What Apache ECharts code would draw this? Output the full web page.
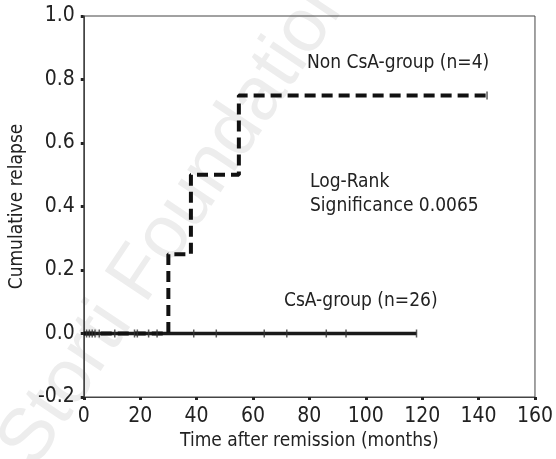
<!DOCTYPE html>
<html>
<head>
<meta charset="utf-8">
<script src="https://cdn.jsdelivr.net/npm/echarts@6/dist/echarts.min.js"></script>
<style>
  html, body { margin: 0; padding: 0; background: #fff; }
  #chart { width: 556px; height: 459px; }
</style>
</head>
<body>
<div id="chart"></div>
<script>
// Non CsA-group (n=4): step points (time, cumulative relapse)
var nonCsaTimes = [0, 30, 38, 55, 143];
var nonCsaRelapse = [0, 0.25, 0.5, 0.75, 0.75];
var nonCsaCensored = [143];

// CsA-group (n=26): no relapses
var csaTimes = [0, 118];
var csaRelapse = [0, 0];
var csaCensored = [1, 2, 3, 4, 5.5, 11, 18, 19, 23, 26, 39, 47, 64, 72, 86, 93, 118];

var xTicks = [0, 20, 40, 60, 80, 100, 120, 140, 160];
var yTicks = [-0.2, 0, 0.2, 0.4, 0.6, 0.8, 1.0];

var FONT = "'Liberation Sans Narrow', 'DejaVu Sans Condensed', 'Roboto', sans-serif";

window.onload = function () {
    var chart = echarts.init(document.getElementById('chart'));

    var nonCsaLine = [];
    for (var i = 0; i < nonCsaTimes.length; i++) {
        nonCsaLine.push([nonCsaTimes[i], nonCsaRelapse[i]]);
    }
    var csaLine = [];
    for (var j = 0; j < csaTimes.length; j++) {
        csaLine.push([csaTimes[j], csaRelapse[j]]);
    }
    // censor marks sit on the curve value at that time
    function curveAt(times, vals, t) {
        var v = vals[0];
        for (var k = 0; k < times.length; k++) {
            if (times[k] <= t) v = vals[k];
        }
        return v;
    }
    var csaMarks = csaCensored.map(function (t) { return [t, curveAt(csaTimes, csaRelapse, t)]; });
    var nonCsaMarks = nonCsaCensored.map(function (t) { return [t, curveAt(nonCsaTimes, nonCsaRelapse, t)]; });

    var option = {
        backgroundColor: '#fff',
        animation: false,
        textStyle: { fontFamily: FONT },
        grid: {
            left: 82,
            right: 19,
            top: 16,
            bottom: 62,
            show: true,
            borderColor: '#444',
            borderWidth: 1
        },
        xAxis: {
            type: 'value',
            min: xTicks[0],
            max: xTicks[xTicks.length - 1],
            interval: 20,
            name: 'Time after remission (months)',
            nameLocation: 'middle',
            nameGap: 35,
            nameTextStyle: { fontSize: 19, color: '#222', fontFamily: FONT },
            axisLine: { onZero: false, lineStyle: { color: '#444', width: 1 } },
            axisTick: { inside: false, length: 3, lineStyle: { color: '#222', width: 3 } },
            axisLabel: { fontSize: 21, color: '#222', margin: 9, fontFamily: FONT },
            splitLine: { show: false }
        },
        yAxis: {
            type: 'value',
            min: yTicks[0],
            max: yTicks[yTicks.length - 1],
            interval: 0.2,
            name: 'Cumulative relapse',
            nameLocation: 'middle',
            nameGap: 54,
            nameTextStyle: { fontSize: 19, color: '#222', fontFamily: FONT },
            axisLine: { show: true, onZero: false, lineStyle: { color: '#444', width: 1 } },
            axisTick: { show: true, inside: false, length: 3, lineStyle: { color: '#222', width: 3 } },
            axisLabel: {
                fontSize: 21, color: '#222', margin: 9, fontFamily: FONT,
                formatter: function (v) { return v.toFixed(1); }
            },
            splitLine: { show: false }
        },
        graphic: [
            {
                type: 'text',
                z: -10,
                x: 178,
                y: 218,
                rotation: 0.98,
                origin: [0, 0],
                style: {
                    text: 'Storti Foundation',
                    fontSize: 76,
                    fontFamily: "'Liberation Sans', sans-serif",
                    fill: '#ededed',
                    align: 'center',
                    verticalAlign: 'middle'
                },
                silent: true
            },
            {
                type: 'text', x: 307, y: 63, z: 10,
                style: { text: 'Non CsA-group (n=4)', fontSize: 19, fontFamily: FONT, fill: '#222', verticalAlign: 'middle' }
            },
            {
                type: 'text', x: 310, y: 182, z: 10,
                style: { text: 'Log-Rank', fontSize: 19, fontFamily: FONT, fill: '#222', verticalAlign: 'middle' }
            },
            {
                type: 'text', x: 310, y: 206, z: 10,
                style: { text: 'Significance 0.0065', fontSize: 19, fontFamily: FONT, fill: '#222', verticalAlign: 'middle' }
            },
            {
                type: 'text', x: 284, y: 301, z: 10,
                style: { text: 'CsA-group (n=26)', fontSize: 19, fontFamily: FONT, fill: '#222', verticalAlign: 'middle' }
            }
        ],
        series: [
            {
                name: 'CsA-group (n=26)',
                type: 'line',
                step: 'end',
                data: csaLine,
                symbol: 'none',
                lineStyle: { color: '#1a1a1a', width: 3.5 },
                z: 3
            },
            {
                name: 'Non CsA-group (n=4)',
                type: 'line',
                step: 'end',
                data: nonCsaLine,
                symbol: 'none',
                lineStyle: { color: '#111', width: 4, type: [11, 6] },
                z: 4
            },
            {
                name: 'CsA censored',
                type: 'scatter',
                data: csaMarks,
                symbol: 'rect',
                symbolSize: [1.5, 8],
                itemStyle: { color: '#333' },
                z: 5
            },
            {
                name: 'Non CsA censored',
                type: 'scatter',
                data: nonCsaMarks,
                symbol: 'rect',
                symbolSize: [1.5, 8],
                itemStyle: { color: '#333' },
                z: 5
            }
        ]
    };

    chart.setOption(option);
};
</script>
</body>
</html>
